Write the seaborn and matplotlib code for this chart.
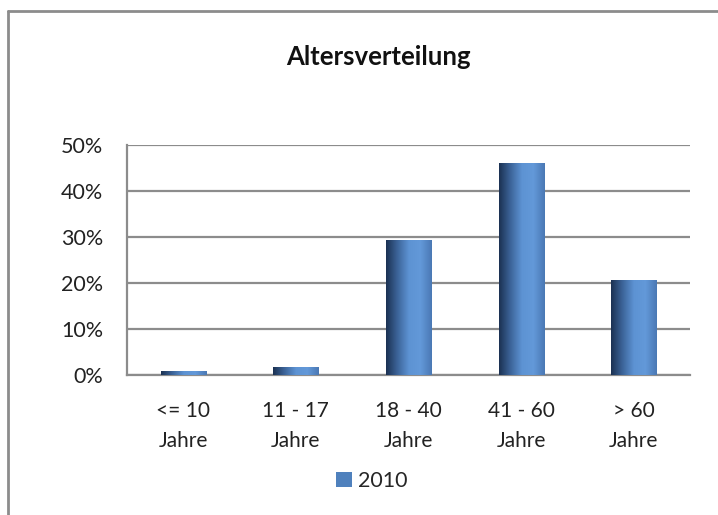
import numpy as np
import pandas as pd
import matplotlib
matplotlib.use('Agg')
import matplotlib.pyplot as plt
import seaborn as sns
from matplotlib import ticker as mticker
from matplotlib.colors import LinearSegmentedColormap
from matplotlib.patches import Patch
from matplotlib.lines import Line2D

categories = ['<= 10\nJahre', '11 - 17\nJahre', '18 - 40\nJahre', '41 - 60\nJahre', '> 60\nJahre']
values_2010 = [0.8, 1.8, 29.4, 46.0, 20.6]
series_name = '2010'

df = pd.DataFrame({'group': categories, 'share': values_2010})

sns.set_style('white')
plt.rcParams['font.family'] = ['Lato', 'DejaVu Sans']

fig = plt.figure(figsize=(7.18, 5.15), dpi=100)
ax = fig.add_axes([127/718, 1-375/515, (690-127)/718, (375-145)/515])

sns.barplot(data=df, x='group', y='share', color='#4f81bd', width=0.4, ax=ax, zorder=3)

# horizontal gradient on each bar like the office chart
grad = LinearSegmentedColormap.from_list('bar', ['#1b3152', '#3c6499', '#5d93d3', '#6399d9', '#4a78b4'])
gx = np.linspace(0, 1, 256).reshape(1, -1)
for p in ax.patches:
    x0, y0 = p.get_x(), p.get_y()
    w, h = p.get_width(), p.get_height()
    im = ax.imshow(gx, cmap=grad, aspect='auto', extent=[x0, x0 + w, y0, y0 + h], zorder=4)
    im.set_clip_path(p)
    p.set_edgecolor('#c9d6e8')
    p.set_linewidth(0.6)

ax.set_xlim(-0.5, len(categories) - 0.5)
ax.set_ylim(0, 50)
ax.yaxis.set_major_locator(mticker.MultipleLocator(10))
ax.yaxis.set_major_formatter(mticker.FuncFormatter(lambda v, _: f'{v:.0f}%'))
ax.grid(axis='y', color='#8c8c8c', linewidth=1.6, zorder=0)
ax.set_axisbelow(True)
for s in ['top', 'right']:
    ax.spines[s].set_visible(False)
for s in ['left', 'bottom']:
    ax.spines[s].set_color('#8c8c8c')
    ax.spines[s].set_linewidth(1.6)

ax.set_xticks(np.arange(-0.5, len(categories), 1.0), minor=False)
ax.set_xticklabels([])
ax.set_xticks(np.arange(len(categories)), minor=True)
ax.set_xticklabels(categories, minor=True, fontsize=15, color='#222222', linespacing=1.6)
ax.tick_params(axis='x', which='major', length=6, width=1.5, color='#8c8c8c', direction='out')
ax.tick_params(axis='x', which='minor', length=0, pad=19)
ax.tick_params(axis='y', length=5, width=1.5, color='#8c8c8c', direction='out', labelsize=15.5, labelcolor='#222222', pad=12)
ax.set_xlabel('')
ax.set_ylabel('')

fig.text(378/718, 1-57/515, 'Altersverteilung', ha='center', va='center', fontsize=18.5, fontweight='bold', color='#111111')

handle = Patch(facecolor='#4f81bd', edgecolor='none')
fig.legend([handle], [series_name], loc='center', bbox_to_anchor=(372/718, 1-481/515),
           frameon=False, fontsize=15.5, handlelength=0.7, handleheight=0.7, handletextpad=0.3)

# chart frame
fig.add_artist(Line2D([8/718, 8/718], [0, 1-11/515], color='#8c8c8c', linewidth=2, transform=fig.transFigure))
fig.add_artist(Line2D([8/718, 1], [1-11/515, 1-11/515], color='#8c8c8c', linewidth=2, transform=fig.transFigure))

fig.savefig('out.png', dpi=100, facecolor='white')
